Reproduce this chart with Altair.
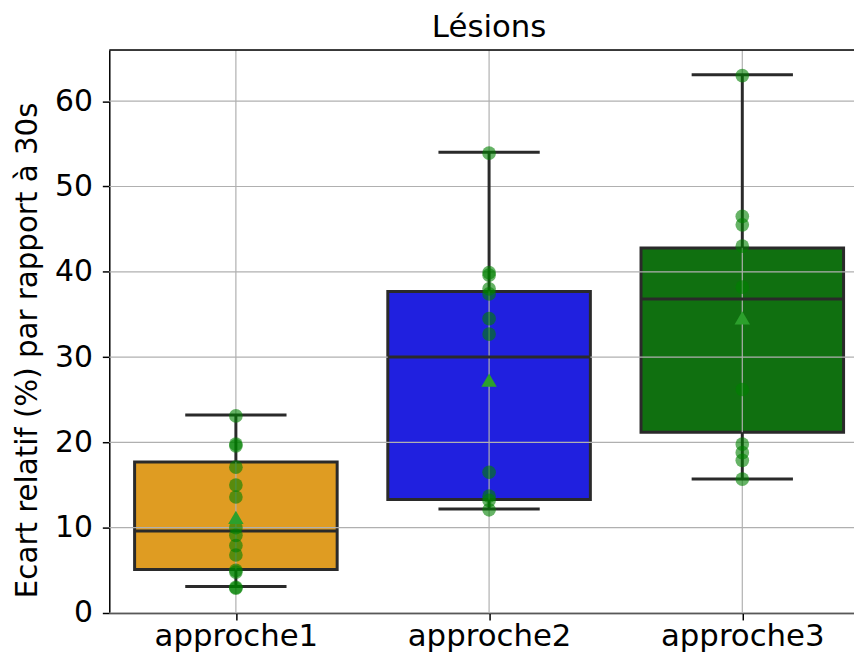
import json
import altair as alt
import pandas as pd

# ---- data ----
categories = ["approche1", "approche2", "approche3"]
box_fill = ["#DF9C22", "#2020DF", "#107010"]
q1 = [5.1, 13.3, 21.2]
median = [9.6, 30.0, 36.8]
q3 = [17.7, 37.7, 42.8]
whisker_low = [3.1, 12.2, 15.7]
whisker_high = [23.2, 54.0, 63.1]
means = [11.2, 27.3, 34.6]

points_a1 = [23.1, 19.8, 19.6, 17.1, 15.0, 13.6, 10.0, 9.1, 7.9, 6.8, 5.0, 4.8, 3.0, 2.9]
points_a2 = [53.9, 39.9, 39.6, 38.0, 37.4, 34.5, 32.7, 16.5, 13.7, 13.2, 12.1]
points_a3 = [63.0, 46.5, 45.5, 43.0, 38.2, 26.2, 19.8, 18.8, 17.9, 15.7]

y_ticks = [0, 10, 20, 30, 40, 50, 60]
y_max = 66

# ---- tables ----
stats = pd.DataFrame({
    "i": list(range(len(categories))),
    "cat": categories,
    "q1": q1, "med": median, "q3": q3,
    "lo": whisker_low, "hi": whisker_high,
    "mean": means, "fill": box_fill,
})
pts = pd.DataFrame(
    [{"i": i, "v": v} for i, lst in enumerate([points_a1, points_a2, points_a3]) for v in lst]
)
ticks_df = pd.DataFrame({"t": y_ticks})

# visible chart area; the plot itself runs a little past the right edge (as in the reference)
W, H = 750, 567
PLOT_W = 765
EDGE = "#2a2a2a"
FONT = "DejaVu Sans"
GRID = "#b0b0b0"

xscale = alt.Scale(domain=[-0.5, len(categories) - 0.5], range=[0, PLOT_W], nice=False, zero=False)
yscale = alt.Scale(domain=[0, y_max], nice=False, zero=False)

xaxis = alt.Axis(
    values=list(range(len(categories))),
    labelExpr=json.dumps(categories) + "[datum.value]",
    title=None, grid=False, tickSize=7, tickWidth=1.5, tickColor="black",
    domainColor="black", domainWidth=1.5, labelFontSize=31, labelFont=FONT,
    labelColor="black", labelPadding=2,
)
yaxis = alt.Axis(
    values=y_ticks, title="Ecart relatif (%) par rapport à 30s",
    titleFontSize=29.5, titleFont=FONT, titleFontWeight="normal", titleColor="black",
    titlePadding=12, titleY=302, grid=False, tickSize=7, tickWidth=1.5, tickColor="black",
    domainColor="black", domainWidth=1.5, labelFontSize=30, labelFont=FONT,
    labelColor="black", labelPadding=10,
)


def X(field):
    return alt.X(field, scale=xscale, axis=xaxis)


def Y(field):
    return alt.Y(field, scale=yscale, axis=yaxis)


base = alt.Chart(stats).transform_calculate(
    xl="datum.i - 0.4", xr="datum.i + 0.4", cl="datum.i - 0.2", cr="datum.i + 0.2"
)

boxes = base.mark_rect(stroke=EDGE, strokeWidth=3).encode(
    x=X("xl:Q"), x2="xr:Q", y=Y("q1:Q"), y2="q3:Q",
    fill=alt.Fill("fill:N", scale=None),
)
grid_y = alt.Chart(ticks_df).mark_rule(color=GRID, strokeWidth=1.2).encode(
    y=Y("t:Q"), x=alt.value(0), x2=alt.value(PLOT_W)
)
grid_x = alt.Chart(stats).mark_rule(color=GRID, strokeWidth=1.2).encode(x=X("i:Q"))

whisk_lo = base.mark_rule(color=EDGE, strokeWidth=3).encode(x=X("i:Q"), y=Y("lo:Q"), y2="q1:Q")
whisk_hi = base.mark_rule(color=EDGE, strokeWidth=3).encode(x=X("i:Q"), y=Y("q3:Q"), y2="hi:Q")
cap_lo = base.mark_rule(color=EDGE, strokeWidth=3).encode(x=X("cl:Q"), x2="cr:Q", y=Y("lo:Q"))
cap_hi = base.mark_rule(color=EDGE, strokeWidth=3).encode(x=X("cl:Q"), x2="cr:Q", y=Y("hi:Q"))
med_line = base.mark_rule(color=EDGE, strokeWidth=3).encode(x=X("xl:Q"), x2="xr:Q", y=Y("med:Q"))

points = alt.Chart(pts).mark_circle(color="#008000", opacity=0.6, size=190).encode(
    x=X("i:Q"), y=Y("v:Q")
)
mean_mark = alt.Chart(stats).mark_point(
    shape="triangle-up", filled=True, color="#2ca02c", opacity=1, size=240
).encode(x=X("i:Q"), y=Y("mean:Q"))

top_line = alt.Chart(stats.head(1)).mark_rule(color="black", strokeWidth=1.5).encode(
    y=alt.value(0), x=alt.value(0), x2=alt.value(PLOT_W)
)

chart = alt.layer(
    boxes, grid_y, grid_x, whisk_lo, whisk_hi, cap_lo, cap_hi, med_line,
    points, mean_mark, top_line,
).properties(
    width=W, height=H,
    title=alt.TitleParams("Lésions", fontSize=31, font=FONT, fontWeight="normal",
                          color="black", offset=5, dx=(PLOT_W - W) / 2),
    padding={"left": 102, "top": 40, "right": 0, "bottom": 39},
    autosize=alt.AutoSizeParams(type="none"),
).configure_view(stroke=None).configure(font=FONT)

chart.save("out.html", embed_options={"renderer": "svg", "actions": False})
